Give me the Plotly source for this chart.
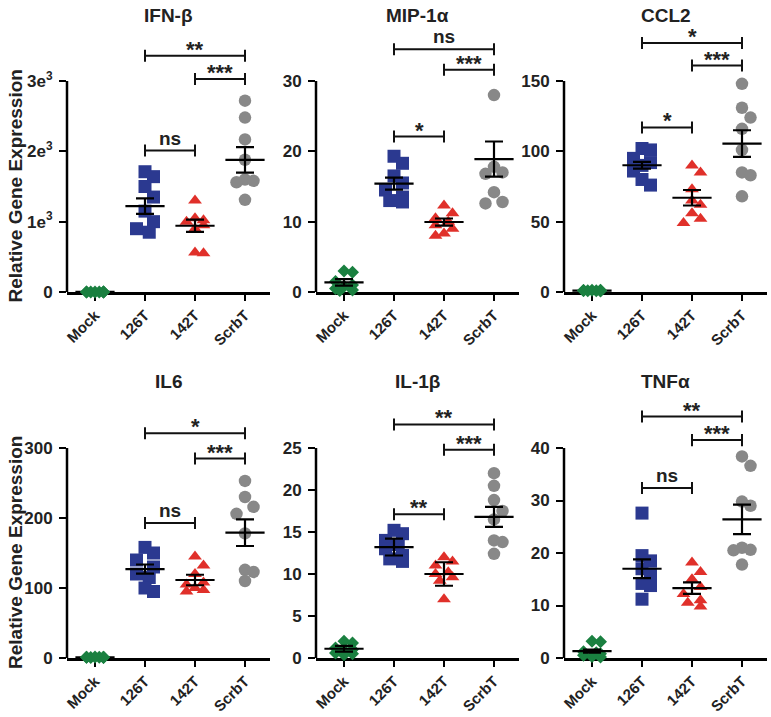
import math
import plotly.graph_objects as go

# ---------------- data ----------------
groups = ["Mock", "126T", "142T", "ScrbT"]
panel_titles = ["IFN-β", "MIP-1α", "CCL2", "IL6", "IL-1β", "TNFα"]

ifnb_points = [
    [1.0, 0.8, 1.2, 0.9, 1.1, 0.7, 1.3, 1.0],
    [1710, 1640, 1500, 1350, 1150, 1000, 900, 850],
    [1300, 1050, 1020, 1000, 950, 900, 560, 550],
    [2720, 2480, 2170, 1880, 1600, 1580, 1560, 1310],
]
ifnb_mean = [1.0, 1221, 942, 1879]
ifnb_sem = [0.1, 110, 88, 182]
ifnb_ticks = [0, 1000, 2000, 3000]
ifnb_ticktext = ["0", "1e<sup>3</sup>", "2e<sup>3</sup>", "3e<sup>3</sup>"]
ifnb_sig = [(1, 3, 3360, "**"), (2, 3, 3029, "***"), (1, 2, 2011, "ns")]

mip_points = [
    [3.0, 2.8, 1.5, 1.0, 0.8, 0.5, 0.3, 0.2],
    [19.3, 18.3, 16.5, 15.5, 14.5, 13.5, 13.0, 12.8],
    [12.3, 11.2, 10.5, 10.0, 9.5, 9.0, 8.3, 8.0],
    [28.0, 17.8, 17.0, 16.8, 14.2, 12.8, 12.6],
]
mip_mean = [1.37, 15.4, 9.95, 18.9]
mip_sem = [0.45, 0.85, 0.5, 2.5]
mip_ticks = [0, 10, 20, 30]
mip_sig = [(1, 3, 34.5, "ns"), (2, 3, 31.6, "***"), (1, 2, 22.1, "*")]

ccl2_points = [
    [0.8, 1.2, 1.0, 0.9, 1.1, 0.7, 1.3, 1.0],
    [102, 101, 95, 92, 90, 86, 80, 76],
    [90, 85, 73, 65, 62, 56, 52, 49],
    [148, 131, 124, 116, 101, 85, 83, 68],
]
ccl2_mean = [1.0, 90.1, 67.0, 105.5]
ccl2_sem = [0.1, 2.4, 5.5, 9.5]
ccl2_ticks = [0, 50, 100, 150]
ccl2_sig = [(1, 3, 177, "*"), (2, 3, 161, "***"), (1, 2, 117, "*")]

il6_points = [
    [0.8, 1.2, 1.0, 0.9, 1.1, 0.7, 1.3, 1.0],
    [158, 150, 140, 130, 120, 115, 100, 95],
    [145, 132, 120, 108, 105, 100, 97, 95],
    [253, 230, 216, 206, 178, 126, 123, 110],
]
il6_mean = [1.0, 127, 111.4, 179]
il6_sem = [0.1, 6.6, 7.5, 19]
il6_ticks = [0, 100, 200, 300]
il6_sig = [(1, 3, 321, "*"), (2, 3, 285, "***"), (1, 2, 193, "ns")]

il1b_points = [
    [2.0, 1.8, 1.2, 1.0, 0.9, 0.6, 0.5, 0.4],
    [15.2, 14.8, 14.0, 13.5, 13.0, 12.2, 11.8, 11.5],
    [12.0, 11.5, 11.0, 10.2, 10.0, 9.6, 9.2, 7.0],
    [22.0, 20.5, 18.8, 17.5, 16.5, 14.0, 13.8, 12.4],
]
il1b_mean = [1.1, 13.2, 10.0, 16.8]
il1b_sem = [0.35, 1.0, 1.4, 1.2]
il1b_ticks = [0, 5, 10, 15, 20, 25]
il1b_sig = [(1, 3, 27.8, "**"), (2, 3, 24.8, "***"), (1, 2, 17.1, "**")]

tnf_points = [
    [3.2, 3.1, 1.2, 1.0, 0.8, 0.5, 0.3, 0.2],
    [27.6, 19.5, 18.5, 17.0, 16.0, 14.2, 13.8, 11.2],
    [18.2, 16.4, 15.0, 13.5, 12.2, 11.0, 10.5, 9.8],
    [38.4, 36.6, 29.8, 29.0, 21.0, 20.6, 20.5, 17.8],
]
tnf_mean = [1.3, 17.0, 13.3, 26.4]
tnf_sem = [0.3, 1.8, 1.1, 2.8]
tnf_ticks = [0, 10, 20, 30, 40]
tnf_sig = [(1, 3, 46.0, "**"), (2, 3, 41.5, "***"), (1, 2, 32.4, "ns")]

panels = [
    (ifnb_points, ifnb_mean, ifnb_sem, ifnb_ticks, ifnb_ticktext, ifnb_sig),
    (mip_points, mip_mean, mip_sem, mip_ticks, None, mip_sig),
    (ccl2_points, ccl2_mean, ccl2_sem, ccl2_ticks, None, ccl2_sig),
    (il6_points, il6_mean, il6_sem, il6_ticks, None, il6_sig),
    (il1b_points, il1b_mean, il1b_sem, il1b_ticks, None, il1b_sig),
    (tnf_points, tnf_mean, tnf_sem, tnf_ticks, None, tnf_sig),
]

# ---------------- styling / layout ----------------
W, H = 771, 717
colors = ["#1A8040", "#2B3990", "#E0302A", "#888888"]
symbols = ["diamond", "square", "triangle-up", "circle"]
sizes = [10, 13, 12, 12.5]
FONT = "Liberation Sans, Arial, sans-serif"

col_left = [67, 316, 564]
col_w = 203
row_zero = [292, 658]
row_tick = [81, 448]
row_domtop = [33, 398]
title_y = [15, 382]
xr = [-0.56, 3.5]
px_per_cat = col_w / (xr[1] - xr[0])


def swarm(values, px_per_unit, diam):
    s = 8.5
    cands = [0, s, -s, s / 2, -s / 2]
    placed = []
    offs = [0.0] * len(values)
    for i in sorted(range(len(values)), key=lambda k: -values[k]):
        y = values[i] * px_per_unit
        best, bestov = 0, 1e9
        for c in cands:
            ov = 0
            for (xo, yo) in placed:
                d = math.hypot(c - xo, y - yo)
                if d < diam * 0.85:
                    ov += diam * 0.85 - d
            if ov == 0:
                best = c
                break
            if ov < bestov:
                bestov, best = ov, c
        placed.append((best, y))
        offs[i] = best
    return [o / px_per_cat for o in offs]


fig = go.Figure()
shapes, annotations = [], []
layout = {}

for p, (pts, mean, sem, ticks, ticktext, sig) in enumerate(panels):
    row, col = divmod(p, 3)
    sfx = "" if p == 0 else str(p + 1)
    xa, ya = "x" + sfx, "y" + sfx
    top_tick = ticks[-1]
    zero_px, tick_px, dom_top = row_zero[row], row_tick[row], row_domtop[row]
    ymax = top_tick * (zero_px - dom_top) / (zero_px - tick_px)
    ppu = (zero_px - dom_top) / ymax
    left = col_left[col]

    layout["xaxis" + sfx] = dict(
        domain=[left / W, (left + col_w) / W], range=xr, anchor=ya, automargin=False,
        tickvals=[0, 1, 2, 3], ticktext=groups, tickangle=-45,
        showline=True, linecolor="black", linewidth=2.5, layer="below traces",
        ticks="outside", ticklen=6, tickwidth=2, tickcolor="black",
        showgrid=False, zeroline=False,
        tickfont=dict(family=FONT, size=15, color="#222", weight="bold"),
    )
    layout["yaxis" + sfx] = dict(
        domain=[1 - zero_px / H, 1 - dom_top / H], range=[0, ymax], anchor=xa,
        automargin=False,
        tickvals=ticks, ticktext=ticktext if ticktext else [str(t) for t in ticks],
        showline=False, ticks="outside", ticklen=7, tickwidth=2, tickcolor="black",
        showgrid=False, zeroline=False, ticklabelstandoff=3,
        tickfont=dict(family=FONT, size=17, color="#222", weight="bold"),
    )
    # y axis line from 0 to top tick
    shapes.append(dict(type="line", xref=xa + " domain", yref=ya + " domain",
                       x0=0, x1=0, y0=0, y1=top_tick / ymax,
                       line=dict(color="black", width=2.5)))

    for g in range(4):
        xs = [g + o for o in swarm(pts[g], ppu, 13)]
        mean_trace = go.Scatter(
            x=[g], y=[mean[g]], xaxis=xa, yaxis=ya, mode="markers",
            marker=dict(symbol="line-ew", size=28, color="black",
                        line=dict(width=2.2, color="black")),
            error_y=dict(type="data", array=[sem[g]], visible=True,
                         color="black", thickness=2.2, width=9),
            cliponaxis=False, showlegend=False, hoverinfo="skip")
        low = mean[g] / top_tick < 0.01
        if low:
            fig.add_trace(mean_trace)
        fig.add_trace(go.Scatter(
            x=xs, y=pts[g], xaxis=xa, yaxis=ya, mode="markers",
            marker=dict(symbol=symbols[g], size=sizes[g], color=colors[g],
                        line=dict(width=0)),
            cliponaxis=False, showlegend=False))
        if not low:
            fig.add_trace(mean_trace)

    # significance brackets
    tick_h = 6 / ppu
    for (g1, g2, lvl, lab) in sig:
        line = dict(color="#111", width=2)
        shapes.append(dict(type="line", xref=xa, yref=ya, x0=g1, x1=g2, y0=lvl, y1=lvl, line=line))
        for gx in (g1, g2):
            shapes.append(dict(type="line", xref=xa, yref=ya, x0=gx, x1=gx,
                               y0=lvl - tick_h, y1=lvl + tick_h, line=line))
        is_star = lab.startswith("*")
        annotations.append(dict(
            x=(g1 + g2) / 2, y=lvl, xref=xa, yref=ya, text=lab, showarrow=False,
            xanchor="center", yanchor="bottom", yshift=-8 if is_star else 0,
            font=dict(family=FONT, size=22 if is_star else 19, color="#222", weight="bold")))

    # panel title
    annotations.append(dict(
        x=(left + col_w / 2) / W, y=1 - title_y[row] / H, xref="paper", yref="paper",
        text=panel_titles[p], showarrow=False, xanchor="center", yanchor="middle",
        font=dict(family=FONT, size=19, color="#222", weight="bold")))

for row in range(2):
    annotations.append(dict(
        x=15 / W, y=1 - (row_zero[row] + row_tick[row]) / 2 / H, xref="paper", yref="paper",
        text="Relative Gene Expression", textangle=-90, showarrow=False,
        xanchor="center", yanchor="middle",
        font=dict(family=FONT, size=19, color="#222", weight="bold")))

fig.update_layout(
    width=W, height=H, margin=dict(l=0, r=0, t=0, b=0, autoexpand=False),
    paper_bgcolor="white", plot_bgcolor="white",
    shapes=shapes, annotations=annotations, showlegend=False, **layout)

fig.write_html("out.html", config={"displayModeBar": False},
               post_script="document.body.style.margin='0';document.body.style.overflow='hidden';")
